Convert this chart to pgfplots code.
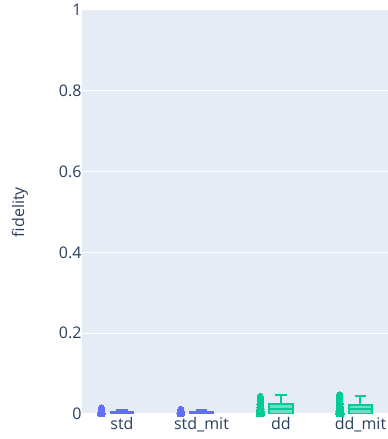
\documentclass[border=0pt]{standalone}
\usepackage{fontspec}
\setmainfont{Open Sans}
\usepackage{pgfplots}
\pgfplotsset{compat=1.18}
\usepgfplotslibrary{statistics}
\definecolor{bgc}{HTML}{E5ECF6}
\definecolor{txt}{HTML}{2A3F5F}
\definecolor{pur}{HTML}{636EFA}
\definecolor{grn}{HTML}{00CC96}

\begin{document}
\begin{tikzpicture}
\useasboundingbox (0,0) rectangle (388pt,439pt);
\begin{axis}[
  at={(82pt,25pt)}, anchor=south west,
  scale only axis, width=306pt, height=404pt,
  xmin=-0.503, xmax=3.346, ymin=0, ymax=1,
  axis background/.style={fill=bgc},
  axis line style={draw=none},
  tick style={draw=none},
  ymajorgrids, grid style={white, line width=1pt},
  ytick={0,0.2,0.4,0.6,0.8,1},
  yticklabels={0,0.2,0.4,0.6,0.8,1},
  xtick={0,1,2,3},
  xticklabels={std,std\_mit,dd,dd\_mit},
  ticklabel style={font=\fontsize{16}{19}\selectfont, text=txt},
  yticklabel style={xshift=3pt},
  ylabel={fidelity},
  ylabel style={font=\fontsize{16}{19}\selectfont, text=txt,
    at={(axis description cs:-0.203,0.5)}, anchor=center},
  boxplot/draw direction=y,
]
% boxes
\addplot[boxplot prepared={draw position=0, lower whisker=0, lower quartile=0.0005,
  median=0.002, upper quartile=0.005, upper whisker=0.009, box extend=0.28, whisker extend=0.14},
  draw=pur, fill=pur, fill opacity=0.5, line width=2pt] coordinates {};
\addplot[boxplot prepared={draw position=1, lower whisker=0, lower quartile=0.0005,
  median=0.002, upper quartile=0.005, upper whisker=0.009, box extend=0.28, whisker extend=0.14},
  draw=pur, fill=pur, fill opacity=0.5, line width=2pt] coordinates {};
\addplot[boxplot prepared={draw position=2, lower whisker=0, lower quartile=0.001,
  median=0.012, upper quartile=0.025, upper whisker=0.047, box extend=0.29, whisker extend=0.145},
  draw=grn, fill=grn, fill opacity=0.5, line width=2pt] coordinates {};
\addplot[boxplot prepared={draw position=3, lower whisker=0, lower quartile=0.001,
  median=0.012, upper quartile=0.023, upper whisker=0.044, box extend=0.29, whisker extend=0.145},
  draw=grn, fill=grn, fill opacity=0.5, line width=2pt] coordinates {};
% points
\addplot[pur, only marks, mark=*, mark size=3pt, mark options={draw=pur, fill=pur, line width=0pt}] coordinates {
  (-0.27,0.000) (-0.25,0.000) (-0.272,0.001) (-0.248,0.001) (-0.26,0.002) (-0.268,0.003)
  (-0.252,0.003) (-0.264,0.004) (-0.256,0.005) (-0.26,0.006) (-0.262,0.008) (-0.258,0.010)
  (-0.26,0.012) (-0.26,0.015)
};
\addplot[pur, only marks, mark=*, mark size=3pt, mark options={draw=pur, fill=pur, line width=0pt}] coordinates {
  (0.73,0.000) (0.75,0.000) (0.728,0.001) (0.752,0.001) (0.74,0.002) (0.732,0.003)
  (0.748,0.003) (0.736,0.004) (0.744,0.005) (0.74,0.006) (0.738,0.008) (0.742,0.010)
  (0.74,0.012)
};
\addplot[grn, only marks, mark=*, mark size=3pt, mark options={draw=grn, fill=grn, line width=0pt}] coordinates {
  (1.725,0.000) (1.755,0.000) (1.74,0.001) (1.725,0.002) (1.755,0.002) (1.73,0.003)
  (1.75,0.004) (1.74,0.005) (1.728,0.006) (1.752,0.006) (1.735,0.008) (1.745,0.009)
  (1.73,0.011) (1.75,0.012) (1.74,0.014) (1.735,0.016) (1.745,0.018) (1.74,0.020)
  (1.735,0.023) (1.745,0.025) (1.74,0.028) (1.74,0.031) (1.738,0.034) (1.742,0.037)
  (1.74,0.040) (1.74,0.044)
};
\addplot[grn, only marks, mark=*, mark size=3pt, mark options={draw=grn, fill=grn, line width=0pt}] coordinates {
  (2.725,0.000) (2.755,0.000) (2.74,0.001) (2.725,0.002) (2.755,0.002) (2.73,0.003)
  (2.75,0.004) (2.74,0.005) (2.728,0.006) (2.752,0.006) (2.735,0.008) (2.745,0.009)
  (2.73,0.011) (2.75,0.012) (2.74,0.014) (2.735,0.016) (2.745,0.018) (2.74,0.020)
  (2.735,0.023) (2.745,0.025) (2.74,0.028) (2.74,0.031) (2.738,0.034) (2.742,0.037)
  (2.74,0.040) (2.742,0.044) (2.74,0.048)
};
\end{axis}
\end{tikzpicture}
\end{document}
